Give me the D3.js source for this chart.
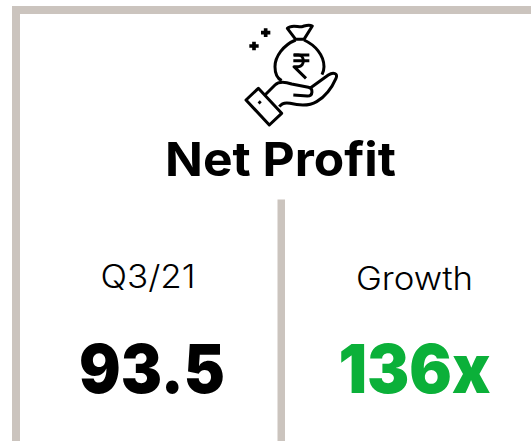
<!DOCTYPE html>
<html>
<head>
<meta charset="utf-8">
<script src="https://cdn.jsdelivr.net/npm/d3@7"></script>
<style>
  html, body { margin: 0; padding: 0; background: #fff; overflow: hidden; }
  svg { display: block; }
  text { font-family: Inter, Lato, "Noto Sans", sans-serif; }
</style>
</head>
<body>
<svg></svg>
<script>
const cardTitle = ["Net Profit"];
const columnLabels = ["Q3/21", "Growth"];
const columnValues = ["93.5", "136x"];
const valueColors = ["#000000", "#0bb039"];

function drawCard() {
    const svgWidth = 531, svgHeight = 441;
    const frameColor = "#cbc4be";

    const svg = d3.select("svg")
        .attr("width", svgWidth)
        .attr("height", svgHeight);

    // frame, open on the right and bottom
    svg.append("rect").attr("x", 12).attr("y", 6).attr("width", svgWidth - 12).attr("height", 8).attr("fill", frameColor);
    svg.append("rect").attr("x", 12).attr("y", 6).attr("width", 8).attr("height", svgHeight - 6).attr("fill", frameColor);

    // divider
    svg.append("rect").attr("x", 277.5).attr("y", 199.5).attr("width", 7.5).attr("height", svgHeight - 199.5).attr("fill", frameColor);

    // icon, drawn in a 3x grid
    const icon = svg.append("g")
        .attr("transform", "translate(230, 10) scale(0.3333)")
        .attr("fill", "none")
        .attr("stroke", "#000")
        .attr("stroke-width", 9)
        .attr("stroke-linejoin", "round")
        .attr("stroke-linecap", "butt");

    const iconPaths = [
        "M197,88 L172,55 C185,42 205,52 215,50 C225,48 235,42 247,48 L222,88 Z",
        "M197,90 C160,105 135,140 135,170 C135,190 142,205 155,212",
        "M222,90 C255,105 282,135 282,170 C282,178 280,186 276,194",
        "M190,135 H238 M190,152 H238",
        "M192,135 H205 C225,135 225,170 205,170 H192 L228,205",
        "M105,255 L135,225 C145,215 165,215 185,222 L235,232 C250,235 250,258 232,258 L190,255",
        "M240,235 L295,195 C310,185 325,190 318,205 C305,235 285,260 260,275 C235,290 200,285 180,280 C165,277 155,280 148,290",
        "M48,270 L85,235 L155,310 L118,345 Z",
        "M86,274 L92,280"
    ];
    icon.selectAll("path")
        .data(iconPaths)
        .join("path")
        .attr("d", d => d);

    // the two plus signs are a bit heavier than the outline
    icon.append("path")
        .attr("d", "M93,68 H121 M107,55 V81 M58,108 H86 M72,95 V121")
        .attr("stroke-width", 11);

    // title
    svg.append("text")
        .attr("x", 280.5).attr("y", 176)
        .attr("text-anchor", "middle")
        .attr("font-size", 47)
        .attr("font-weight", 700)
        .attr("fill", "#000")
        .attr("textLength", 231)
        .attr("lengthAdjust", "spacingAndGlyphs")
        .text(cardTitle[0]);

    const labelX = [148, 414.5];
    const labelWidth = [95, 117];

    svg.selectAll(".label")
        .data(columnLabels)
        .join("text")
        .attr("class", "label")
        .attr("x", (d, i) => labelX[i])
        .attr("y", (d, i) => i === 0 ? 288 : 290)
        .attr("text-anchor", "middle")
        .attr("font-size", 32)
        .attr("font-weight", 300)
        .attr("fill", "#000")
        .attr("textLength", (d, i) => labelWidth[i])
        .attr("lengthAdjust", "spacingAndGlyphs")
        .text(d => d);

    const valueX = [152, 414.5];
    const valueWidth = [146, 152];

    svg.selectAll(".value")
        .data(columnValues)
        .join("text")
        .attr("class", "value")
        .attr("x", (d, i) => valueX[i])
        .attr("y", 393)
        .attr("text-anchor", "middle")
        .attr("font-size", 68)
        .attr("font-weight", 900)
        .attr("fill", (d, i) => valueColors[i])
        .attr("textLength", (d, i) => valueWidth[i])
        .attr("lengthAdjust", "spacingAndGlyphs")
        .text(d => d);
}

// run
drawCard();
</script>
</body>
</html>
